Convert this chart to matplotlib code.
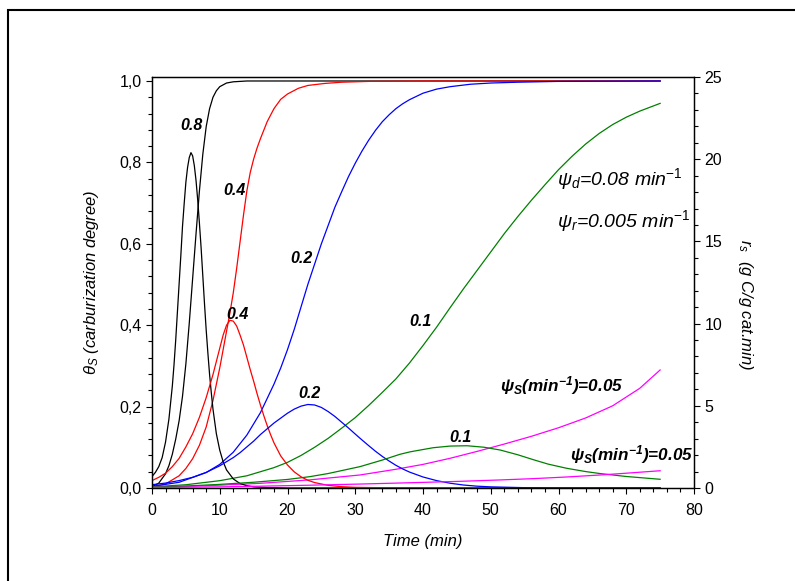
import matplotlib
matplotlib.use('Agg')
import matplotlib.pyplot as plt
from matplotlib.ticker import MultipleLocator, FuncFormatter
from matplotlib.patches import Rectangle

plt.rcParams['font.family'] = 'Liberation Sans'
plt.rcParams['mathtext.fontset'] = 'custom'
plt.rcParams['mathtext.rm'] = 'Liberation Sans'
plt.rcParams['mathtext.it'] = 'Liberation Sans:italic'
plt.rcParams['mathtext.bf'] = 'Liberation Sans:bold'
plt.rcParams['mathtext.bfit'] = 'Liberation Sans:italic:bold'

# carburization degree theta_s (left axis)
t_th_08 = [0, 1, 2, 2.5, 3, 3.5, 4, 4.5, 5, 5.5, 6, 6.5, 7, 7.5, 8, 8.5, 9, 9.5, 10, 11, 12, 14, 75]
th_08 = [0.003, 0.012, 0.035, 0.055, 0.083, 0.12, 0.165, 0.225, 0.305, 0.405, 0.515, 0.625, 0.73,
         0.82, 0.888, 0.932, 0.96, 0.976, 0.986, 0.995, 0.998, 1.0, 1.0]

t_th_04 = [0, 2, 4, 5, 6, 7, 8, 9, 10, 10.5, 11, 11.5, 12, 12.5, 13, 13.5, 14, 14.5, 15, 15.5, 16,
           17, 18, 19, 20, 21.6, 23, 25.5, 28, 32, 40, 75]
th_04 = [0.002, 0.01, 0.03, 0.048, 0.072, 0.105, 0.15, 0.215, 0.295, 0.34, 0.385, 0.43, 0.48, 0.54,
         0.605, 0.67, 0.73, 0.775, 0.808, 0.835, 0.858, 0.9, 0.932, 0.955, 0.968, 0.982, 0.989,
         0.994, 0.997, 0.999, 1.0, 1.0]

t_th_02 = [0, 4, 8, 10, 12, 14, 16, 18, 19, 20, 21, 22, 23, 24, 25, 26, 27, 28, 29, 30, 31, 32, 33,
           34, 35, 36, 37, 38, 40, 42, 44, 47, 50, 54, 60, 75]
th_02 = [0.004, 0.014, 0.038, 0.058, 0.088, 0.13, 0.185, 0.255, 0.295, 0.34, 0.39, 0.445, 0.5, 0.55,
         0.6, 0.645, 0.69, 0.728, 0.765, 0.798, 0.828, 0.855, 0.879, 0.9, 0.917, 0.932, 0.944,
         0.954, 0.97, 0.98, 0.986, 0.992, 0.995, 0.997, 0.999, 1.0]

t_th_01 = [0, 5, 10, 14, 18, 20, 22, 24, 26, 28, 30, 32, 34, 36, 38, 40, 42, 44, 46, 48, 50, 52, 54,
           56, 58, 60, 62, 64, 66, 68, 70, 72, 75]
th_01 = [0.003, 0.008, 0.018, 0.03, 0.05, 0.063, 0.08, 0.1, 0.122, 0.147, 0.173, 0.203, 0.235,
         0.268, 0.307, 0.35, 0.395, 0.443, 0.49, 0.535, 0.58, 0.625, 0.667, 0.707, 0.745, 0.782,
         0.815, 0.845, 0.871, 0.893, 0.911, 0.926, 0.945]

t_th_005 = [0, 5, 10, 16, 23.3, 30.7, 36, 40, 44, 48, 52, 56, 60, 64, 68, 72, 75]
th_005 = [0.002, 0.004, 0.007, 0.0115, 0.02, 0.032, 0.046, 0.058, 0.073, 0.09, 0.108, 0.127, 0.148,
          0.172, 0.202, 0.245, 0.29]

# carbon deposition rate r_s (right axis)
t_r_08 = [0, 0.5, 1, 1.5, 2, 2.5, 3, 3.25, 3.5, 3.75, 4, 4.25, 4.5, 4.75, 5, 5.25, 5.5, 5.75, 6,
          6.25, 6.5, 6.75, 7, 7.25, 7.5, 7.75, 8, 8.25, 8.5, 8.75, 9, 9.5, 10, 10.5, 11, 12, 13,
          14, 15, 17, 20, 75]
r_08 = [0.7, 0.95, 1.3, 1.85, 2.8, 4.2, 6.2, 7.5, 9.0, 10.7, 12.4, 14.1, 15.9, 17.3, 18.6, 19.5,
        20.1, 20.4, 20.2, 19.6, 18.7, 17.5, 16.1, 14.6, 12.9, 11.2, 9.6, 8.2, 6.9, 5.8, 4.8, 3.3,
        2.3, 1.6, 1.1, 0.55, 0.27, 0.14, 0.07, 0.02, 0.0, 0.0]

t_r_04 = [0, 1, 2, 3, 4, 5, 6, 7, 8, 8.5, 9, 9.5, 10, 10.5, 11, 11.5, 12, 12.5, 13, 13.5, 14, 14.5,
          15, 15.5, 16, 16.5, 17, 17.5, 18, 19, 20, 21, 22, 23, 24, 26, 28, 30, 35, 40, 75]
r_04 = [0.45, 0.65, 0.9, 1.3, 1.8, 2.5, 3.3, 4.3, 5.5, 6.2, 6.9, 7.7, 8.5, 9.3, 9.9, 10.2, 10.15,
        9.85, 9.3, 8.7, 7.95, 7.2, 6.5, 5.75, 5.05, 4.4, 3.8, 3.25, 2.75, 1.95, 1.4, 0.98, 0.68,
        0.47, 0.33, 0.16, 0.08, 0.04, 0.01, 0.0, 0.0]

t_r_02 = [0, 2, 4, 6, 8, 10, 12, 13, 14, 15, 16, 17, 18, 19, 20, 21, 22, 23, 24, 25, 26, 27, 28,
          29, 30, 31, 32, 33, 34, 35, 36, 37, 38, 40, 42, 44, 46, 48, 50, 55, 60, 75]
r_02 = [0.2, 0.3, 0.45, 0.65, 0.95, 1.35, 1.85, 2.15, 2.5, 2.85, 3.25, 3.6, 3.95, 4.25, 4.55, 4.8,
        4.98, 5.08, 5.05, 4.9, 4.65, 4.35, 4.0, 3.65, 3.28, 2.92, 2.57, 2.23, 1.92, 1.64, 1.38,
        1.16, 0.97, 0.67, 0.45, 0.29, 0.18, 0.11, 0.07, 0.02, 0.0, 0.0]

t_r_01 = [0, 5, 10, 15, 20, 23.3, 26, 30.7, 34, 36.6, 38.1, 41.5, 44, 46.5, 49, 51.4, 54, 56.3, 58.5,
          61.2, 64, 66.1, 70, 75]
r_01 = [0.05, 0.12, 0.22, 0.35, 0.52, 0.69, 0.88, 1.3, 1.7, 2.05, 2.2, 2.45, 2.55, 2.57, 2.48, 2.31,
        2.02, 1.72, 1.45, 1.2, 1.0, 0.88, 0.7, 0.53]

t_r_005 = [0, 10, 16, 23.3, 30.7, 38.1, 45, 51.4, 56.3, 61.2, 66.1, 70, 75]
r_005 = [0.03, 0.07, 0.11, 0.17, 0.24, 0.32, 0.4, 0.49, 0.57, 0.67, 0.79, 0.9, 1.05]

fig = plt.figure(figsize=(7.95, 5.81), dpi=100)
ax = fig.add_axes([152 / 795, 1 - 488 / 581, (694 - 152) / 795, (488 - 77) / 581])
ax2 = ax.twinx()

lw = 0.9
ax.plot(t_th_08, th_08, color='black', lw=lw)
ax.plot(t_th_04, th_04, color='#ff0000', lw=lw)
ax.plot(t_th_02, th_02, color='#0000ff', lw=lw)
ax.plot(t_th_01, th_01, color='#008000', lw=lw)
ax.plot(t_th_005, th_005, color='#ff00ff', lw=lw)

ax2.plot(t_r_08, r_08, color='black', lw=lw)
ax2.plot(t_r_04, r_04, color='#ff0000', lw=lw)
ax2.plot(t_r_02, r_02, color='#0000ff', lw=lw)
ax2.plot(t_r_01, r_01, color='#008000', lw=lw)
ax2.plot(t_r_005, r_005, color='#ff00ff', lw=lw)

ax.set_xlim(0, 80)
ax.set_ylim(0, 1.0098)
ax2.set_ylim(0, 25)

ax.xaxis.set_major_locator(MultipleLocator(10))
ax.xaxis.set_minor_locator(MultipleLocator(2))
ax.yaxis.set_major_locator(MultipleLocator(0.2))
ax.yaxis.set_minor_locator(MultipleLocator(0.04))
ax.yaxis.set_major_formatter(FuncFormatter(lambda v, p: f'{v:.1f}'.replace('.', ',')))
ax2.yaxis.set_major_locator(MultipleLocator(5))
ax2.yaxis.set_minor_locator(MultipleLocator(1))

for a in (ax, ax2):
    a.tick_params(which='major', direction='out', length=4.5, width=0.8, labelsize=11.5, pad=3)
    a.tick_params(which='minor', direction='out', length=3, width=0.8)
    for s in a.spines.values():
        s.set_linewidth(0.9)
ax.tick_params(axis='x', which='major', pad=6)
ax.tick_params(top=False, right=False, which='both')

ax.set_xlabel('Time (min)', fontsize=12, style='italic', labelpad=12)
ax.set_ylabel(r'$\theta_S$ (carburization degree)', fontsize=12, style='italic', labelpad=13)
fig.text(745 / 795, 1 - 305 / 581, r'$r_s$  (g C/g cat.min)', fontsize=12, style='italic',
         rotation=270, ha='center', va='center')

bold = dict(fontsize=11.5, fontweight='bold', style='italic', ha='center', va='center')
ax.text(5.76, 0.89, '0.8', **bold)
ax.text(12.1, 0.732, '0.4', **bold)
ax.text(22.0, 0.563, '0.2', **bold)
ax.text(39.6, 0.41, '0.1', **bold)
ax.text(12.6, 0.4275, '0.4', **bold)
ax.text(23.2, 0.233, '0.2', **bold)
ax.text(45.5, 0.123, '0.1', **bold)

lab = r'$\mathbfit{\psi}_{\mathbfit{S}}$(min$^{\mathbfit{-1}}$)=0.05'
ax.text(51.4, 0.237, lab, fontsize=12.3, fontweight='bold', style='italic', ha='left', va='baseline')
ax.text(61.7, 0.0688, lab, fontsize=12.3, fontweight='bold', style='italic', ha='left', va='baseline')
ax.text(59.8, 0.744, r'$\psi_d$=0.08 min$^{-1}$', fontsize=14, style='italic', ha='left', va='baseline')
ax.text(59.8, 0.641, r'$\psi_r$=0.005 min$^{-1}$', fontsize=14, style='italic', ha='left', va='baseline')

fig.patches.append(Rectangle((8 / 795, -0.05), 1.2, 1 - 10 / 581 + 0.05, transform=fig.transFigure,
                             fill=False, lw=1.5, edgecolor='black'))

fig.savefig('out.png', dpi=100)
